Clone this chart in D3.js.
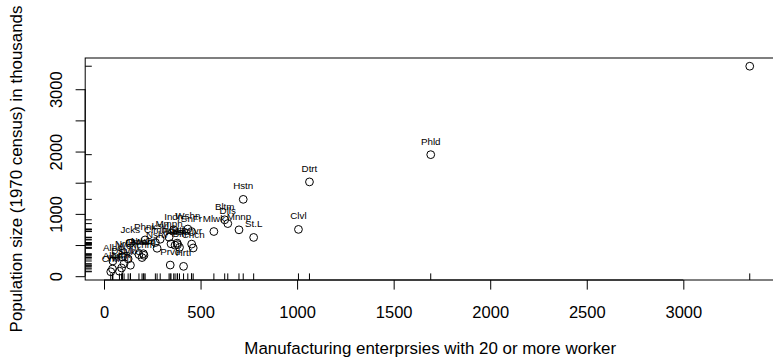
<!DOCTYPE html>
<html><head><meta charset="utf-8">
<script src="https://cdn.jsdelivr.net/npm/d3@7"></script>
<style>
body{margin:0;background:#fff;}
svg{display:block;}
text{font-family:"Liberation Sans",Arial,Helvetica,sans-serif;fill:#000;}
</style>
</head><body>
<svg id="c" width="773" height="360"></svg>
<script>
// ---- data (USairpollution: manufacturing vs population) ----
const cities = ["Albany","Albuquerque","Atlanta","Baltimore","Buffalo","Charleston","Chicago","Cincinnati","Cleveland","Columbus","Dallas","Denver","Des Moines","Detroit","Hartford","Houston","Indianapolis","Jacksonville","Kansas City","Little Rock","Louisville","Memphis","Miami","Milwaukee","Minneapolis","Nashville","New Orleans","Norfolk","Omaha","Philadelphia","Phoenix","Pittsburgh","Providence","Richmond","Salt Lake City","San Francisco","Seattle","St. Louis","Washington","Wichita","Wilmington"];
const labels = ["Albn","Albq","Atln","Bltm","Bffl","Chrl","Chcg","Cncn","Clvl","Clmb","Dlls","Dnvr","DsMn","Dtrt","Hrtf","Hstn","Indn","Jcks","KnsC","LttR","Lsvl","Mmph","Miam","Mlwk","Mnnp","Nshv","NwOr","Nrfl","Omah","Phld","Phnx","Ptts","Prvd","Rchm","SLkC","SnFr","Sttl","St.L","Wshn","Wcht","Wlmn"];
const manu = [44,46,368,625,391,35,3344,462,1007,266,641,454,104,1064,412,721,361,136,381,91,291,337,207,569,699,275,204,96,181,1692,213,347,343,197,137,453,379,775,434,125,80];
const popul = [116,244,497,905,463,71,3369,453,751,540,844,515,201,1513,158,1233,746,529,507,132,593,624,335,717,744,448,361,308,347,1950,582,520,179,299,176,716,531,622,757,277,80];
const xTicks = [0,500,1000,1500,2000,2500,3000];
const yTicks = [0,500,1000,1500,2000,2500,3000];
const yTickLabels = [0,1000,2000,3000];
const xTitle = "Manufacturing enterprsies with 20 or more worker";
const yTitle = "Population size (1970 census) in thousands";

// ---- layout ----
const pL = 85.2, pR = 775.3, pT = 58, pB = 280;
const svg = d3.select("#c");

const xe = d3.extent(manu), ye = d3.extent(popul);
const xd = xe[1]-xe[0], yd = ye[1]-ye[0];
const x = d3.scaleLinear().domain([xe[0]-0.04*xd, xe[1]+0.04*xd]).range([pL, pR]);
const y = d3.scaleLinear().domain([ye[0]-0.04*yd, ye[1]+0.04*yd]).range([pB, pT]);

svg.append("clipPath").attr("id","plotclip").append("rect")
  .attr("x",pL).attr("y",pT).attr("width",pR-pL).attr("height",pB-pT);

const pts = cities.map((c,i)=>({c, lab:labels[i], m:manu[i], p:popul[i]}));

// points
const plot = svg.append("g").attr("clip-path","url(#plotclip)");
plot.selectAll("circle").data(pts).enter().append("circle")
  .attr("cx",d=>x(d.m)).attr("cy",d=>y(d.p)).attr("r",3.9)
  .attr("fill","none").attr("stroke","#000").attr("stroke-width",1);

// box
svg.append("rect").attr("x",pL).attr("y",pT).attr("width",pR-pL).attr("height",pB-pT)
  .attr("fill","none").attr("stroke","#000").attr("stroke-width",1);

// x axis
const xAxis = d3.axisBottom(x).tickValues(xTicks).tickSize(9.6).tickPadding(0).tickFormat(d3.format("d"));
const gx = svg.append("g").attr("transform",`translate(0,${pB})`).call(xAxis);
gx.select(".domain").attr("d",`M${x(xTicks[0])},0H${x(xTicks[xTicks.length-1])}`).attr("stroke","#000");
gx.selectAll(".tick line").attr("stroke","#000");
gx.selectAll(".tick text").attr("font-size",16.5).attr("y",37.5).attr("dy",null)
  .style("font-family",'"Liberation Sans",Arial,sans-serif').attr("fill","#000");

// y axis
const yAxis = d3.axisLeft(y).tickValues(yTicks).tickSize(9.6).tickPadding(0)
  .tickFormat(d=> yTickLabels.includes(d) ? d3.format("d")(d) : "");
const gy = svg.append("g").attr("transform",`translate(${pL},0)`).call(yAxis);
gy.select(".domain").attr("d",`M0,${y(yTicks[0])}V${y(yTicks[yTicks.length-1])}`).attr("stroke","#000");
gy.selectAll(".tick line").attr("stroke","#000");
gy.selectAll(".tick text").attr("font-size",16.5).attr("x",null).attr("dy",null)
  .attr("text-anchor","middle")
  .attr("transform","translate(-23.6,0) rotate(-90)")
  .style("font-family",'"Liberation Sans",Arial,sans-serif').attr("fill","#000");

// rugs
const rugLen = 6.6;
svg.append("g").selectAll("line").data(manu).enter().append("line")
  .attr("x1",d=>x(d)).attr("x2",d=>x(d)).attr("y1",pB).attr("y2",pB-rugLen)
  .attr("stroke","#000").attr("stroke-width",1);
svg.append("g").selectAll("line").data(popul).enter().append("line")
  .attr("y1",d=>y(d)).attr("y2",d=>y(d)).attr("x1",pL).attr("x2",pL+rugLen)
  .attr("stroke","#000").attr("stroke-width",1);

// point labels
const lab = svg.append("g").attr("clip-path","url(#plotclip)");
lab.selectAll("text").data(pts).enter().append("text")
  .attr("x",d=>x(d.m)).attr("y",d=>y(d.p)-10)
  .attr("text-anchor","middle").attr("font-size",9.8).text(d=>d.lab);

// titles
svg.append("text").attr("x",(pL+pR)/2).attr("y",354).attr("text-anchor","middle")
  .attr("font-size",16.9).text(xTitle);
svg.append("text").attr("transform",`translate(21.8,${(pT+pB)/2}) rotate(-90)`)
  .attr("text-anchor","middle").attr("font-size",16.9).text(yTitle);
</script>
</body></html>
